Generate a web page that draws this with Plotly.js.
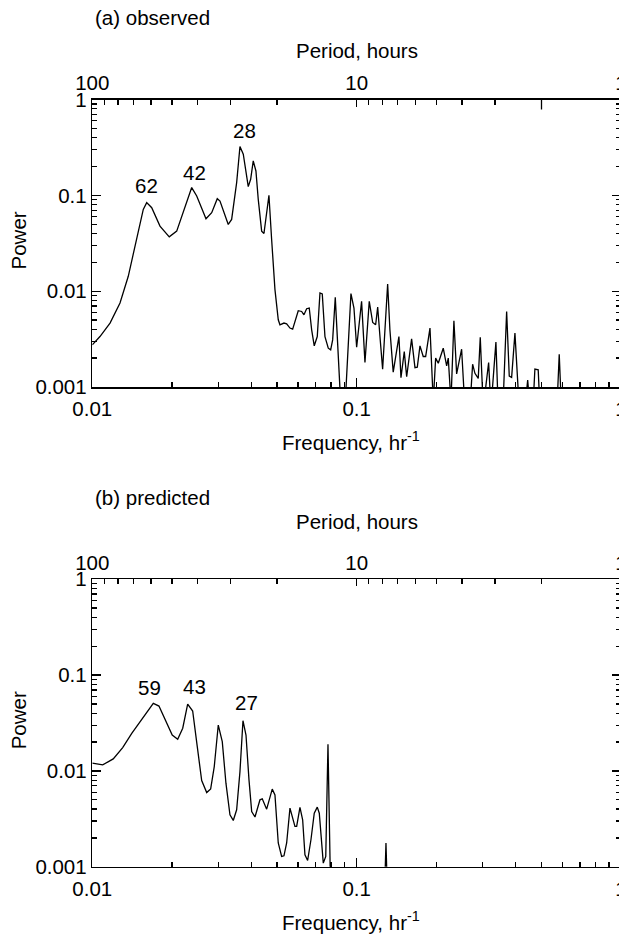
<!DOCTYPE html>
<html>
<head>
<meta charset="utf-8">
<script src="https://cdn.plot.ly/plotly-3.0.1.min.js"></script>
<style>
html,body{margin:0;padding:0;overflow:hidden;background:#fff;width:619px;height:936px}
#chart{width:640px;height:936px}
</style>
</head>
<body>
<div id="chart"></div>
<script>
// ---------- data ----------
var obsFreq = [0.0100,0.01069,0.01167,0.01273,0.01368,0.01429,0.01493,0.01559,0.01606,0.01678,
  0.01803,0.01955,0.02086,0.02242,0.02377,0.02483,0.02692,0.02829,0.02970,0.03041,
  0.03268,0.03366,0.03516,0.03619,0.03725,0.0389,0.03972,0.04063,0.04159,0.04244,
  0.04372,0.04460,0.04566,0.04658,0.04769,0.04909,0.05052,0.05127,0.05309,0.05435,
  0.05594,0.05727,0.06013,0.06194,0.06319,0.06469,0.06617,0.06758,0.06912,0.07096,
  0.07265,0.07412,0.07588,0.07810,0.07975,0.08114,0.08301,0.08446,0.08723,0.09031,
  0.09515,0.09768,0.1000,0.1044,0.1075,0.1116,0.1150,0.1180,0.1201,0.1225,
  0.1254,0.1310,0.1336,0.1375,0.1445,0.1471,0.1514,0.1546,0.1614,0.1662,
  0.1696,0.1736,0.1786,0.1824,0.1894,0.1949,0.1990,0.2036,0.2126,0.2190,
  0.2221,0.2274,0.2333,0.2389,0.2495,0.2568,0.2682,0.2746,0.2802,0.2884,
  0.2935,0.3012,0.3157,0.3221,0.3364,0.3432,0.3575,0.3693,0.3778,0.3857,
  0.3970,0.4121,0.4331,0.4436,0.4526,0.4643,0.4724,0.4862,0.4935,0.5723,
  0.5839,0.5952];
var obsPower = [0.00275,0.00336,0.00465,0.00752,0.0143,0.0251,0.0441,0.0713,0.0839,0.0743,
  0.0477,0.0369,0.0423,0.0773,0.1205,0.0984,0.057,0.0659,0.0923,0.0871,
  0.0497,0.0561,0.1358,0.3236,0.2687,0.1233,0.147,0.2286,0.1796,0.0908,
  0.0423,0.040,0.0659,0.100,0.0346,0.01037,0.00503,0.00446,0.00465,0.00457,
  0.00412,0.00402,0.00625,0.00614,0.00567,0.00656,0.00667,0.00395,0.00269,0.00336,
  0.00957,0.00935,0.00336,0.00254,0.00244,0.0031,0.00861,0.0031,0.0006,0.0006,
  0.00942,0.00667,0.0026,0.00782,0.0018,0.00782,0.00471,0.00446,0.00683,0.00336,
  0.00153,0.0119,0.00395,0.00143,0.00336,0.00125,0.00234,0.00128,0.00318,0.00159,
  0.00161,0.00269,0.00208,0.00208,0.00412,0.0007,0.0020,0.00177,0.00254,0.00166,
  0.0020,0.0007,0.00491,0.00137,0.00248,0.0006,0.0006,0.00173,0.00139,0.00123,
  0.00331,0.0006,0.0018,0.0006,0.00294,0.0006,0.0006,0.00614,0.0013,0.00126,
  0.00365,0.0006,0.0006,0.00118,0.0006,0.0006,0.00154,0.00151,0.0006,0.0006,
  0.0022,0.0006];

var predFreq = [0.0100,0.01095,0.0120,0.01303,0.0141,0.01515,0.01606,0.01701,0.01787,0.01884,
  0.02006,0.02104,0.02198,0.02295,0.02397,0.02495,0.02593,0.02709,0.02804,0.02893,
  0.02996,0.03102,0.03203,0.03317,0.03414,0.03516,0.03619,0.03715,0.03814,0.03915,
  0.04008,0.04125,0.04308,0.04395,0.04566,0.04794,0.04909,0.05052,0.05203,0.05309,
  0.05435,0.05594,0.05842,0.0593,0.06103,0.06248,0.06374,0.06525,0.06716,0.06912,
  0.07096,0.07222,0.07374,0.07478,0.07641,0.07790,0.07975,0.1274,0.1291,0.1308];
var predPower = [0.01203,0.01155,0.01334,0.0175,0.0247,0.0326,0.0415,0.0507,0.0475,0.034,
  0.0237,0.0214,0.0279,0.0499,0.0422,0.0179,0.00792,0.00594,0.00649,0.01109,
  0.0301,0.0202,0.00744,0.00348,0.00304,0.00393,0.00983,0.0334,0.0237,0.00806,
  0.00377,0.0033,0.00499,0.00511,0.00399,0.00645,0.00562,0.00177,0.00128,0.0013,
  0.00177,0.00409,0.00263,0.00263,0.00417,0.00309,0.00133,0.00116,0.00191,0.00362,
  0.00419,0.00362,0.0015,0.00109,0.00128,0.019,0.0005,0.0005,0.00177,0.0005];

var obsPeakLabels = ['62','42','28'];
var predPeakLabels = ['59','43','27'];

var freqTickVals = [0.01, 0.1, 1];
var freqTickText = ['0.01', '0.1', '1'];
var periodTickVals = [100, 10, 1];
var periodTickText = ['100', '10', '1'];
var powerTickVals = [0.001, 0.01, 0.1, 1];
var powerTickText = ['0.001', '0.01', '0.1', '1'];

var panelTitles = ['(a) observed', '(b) predicted'];
var topTitle = 'Period, hours';
var bottomTitle = 'Frequency, hr<sup>-1</sup>';
var leftTitle = 'Power';

// ---------- minor tick positions (2..9 within each decade) ----------
function minorVals(decades) {
  var out = [];
  decades.forEach(function (d) { for (var k = 2; k <= 9; k++) out.push(+(k * d).toPrecision(3)); });
  return out;
}
var freqMinor = minorVals([0.01, 0.1]);
var periodMinor = minorVals([1, 10]);
var powerMinor = minorVals([0.001, 0.01, 0.1]);

// ---------- layout geometry ----------
var W = 640, H = 936;
var FONT = 'Liberation Sans, Arial, Helvetica, sans-serif';
var xDom = [92.3 / W, 621 / W];
var yDomA = [(H - 387) / H, (H - 99.5) / H];
var yDomB = [(H - 866.7) / H, (H - 579.3) / H];

function baseAxis() {
  return {
    showline: true, linecolor: 'black', linewidth: 1.5,
    showgrid: false, zeroline: false, fixedrange: true,
    ticks: 'inside', tickwidth: 1.3, tickcolor: 'black',
    tickfont: { family: FONT, size: 20.5, color: 'black' },
    tickmode: 'array'
  };
}
function freqAxis(anchor) {
  var a = baseAxis();
  Object.assign(a, {
    type: 'log', range: [-2, 0], domain: xDom, anchor: anchor, side: 'bottom', mirror: false,
    ticklen: 9, tickvals: freqTickVals, ticktext: freqTickText, ticklabelstandoff: 3,
    minor: { tickmode: 'array', tickvals: freqMinor, ticks: 'inside', ticklen: 5, tickwidth: 1.3, tickcolor: 'black', showgrid: false }
  });
  return a;
}
function periodAxis(over, anchor) {
  var a = baseAxis();
  Object.assign(a, {
    type: 'log', range: [2, 0], overlaying: over, anchor: anchor, side: 'top', mirror: false,
    ticklen: 7, tickvals: periodTickVals, ticktext: periodTickText,
    minor: { tickmode: 'array', tickvals: periodMinor, ticks: 'inside', ticklen: 5, tickwidth: 1.3, tickcolor: 'black', showgrid: false }
  });
  return a;
}
function powerAxis(dom, anchor) {
  var a = baseAxis();
  Object.assign(a, {
    type: 'log', range: [-3, 0], domain: dom, anchor: anchor, side: 'left', mirror: 'ticks',
    ticklen: 9, tickvals: powerTickVals, ticktext: powerTickText,
    minor: { tickmode: 'array', tickvals: powerMinor, ticks: 'inside', ticklen: 5, tickwidth: 1.3, tickcolor: 'black', showgrid: false }
  });
  return a;
}

var lineStyle = { color: 'black', width: 1.3 };
var traces = [
  { x: obsFreq, y: obsPower, xaxis: 'x', yaxis: 'y', mode: 'lines', line: lineStyle, hoverinfo: 'skip', showlegend: false },
  { x: [], y: [], xaxis: 'x2', yaxis: 'y', mode: 'lines', hoverinfo: 'skip', showlegend: false },
  { x: predFreq, y: predPower, xaxis: 'x3', yaxis: 'y2', mode: 'lines', line: lineStyle, hoverinfo: 'skip', showlegend: false },
  { x: [], y: [], xaxis: 'x4', yaxis: 'y2', mode: 'lines', hoverinfo: 'skip', showlegend: false }
];

function ann(text, px, py, extra) {
  var a = {
    text: text, xref: 'paper', yref: 'paper', x: px / W, y: 1 - py / H,
    xanchor: 'center', yanchor: 'middle', showarrow: false,
    font: { family: FONT, size: 20.5, color: 'black' }
  };
  return Object.assign(a, extra || {});
}

var annotations = [
  ann(panelTitles[0], 93, 17, { xanchor: 'left' }),
  ann(topTitle, 356.7, 50),
  ann(bottomTitle, 351, 441),
  ann(leftTitle, 18.5, 241, { textangle: -90 }),
  ann(obsPeakLabels[0], 146.5, 186),
  ann(obsPeakLabels[1], 194.7, 172.5),
  ann(obsPeakLabels[2], 244.5, 131),

  ann(panelTitles[1], 93, 497, { xanchor: 'left' }),
  ann(topTitle, 356.7, 521.5),
  ann(bottomTitle, 351, 920.5),
  ann(leftTitle, 18.5, 720.8, { textangle: -90 }),
  ann(predPeakLabels[0], 149.7, 687.5),
  ann(predPeakLabels[1], 194.3, 686.5),
  ann(predPeakLabels[2], 246.3, 702.5)
];

var layout = {
  width: W, height: H,
  margin: { l: 0, r: 0, t: 0, b: 0, pad: 0 },
  paper_bgcolor: 'white', plot_bgcolor: 'white',
  showlegend: false,
  font: { family: FONT, size: 20.5, color: 'black' },
  xaxis: freqAxis('y'),
  xaxis2: periodAxis('x', 'y'),
  yaxis: powerAxis(yDomA, 'x'),
  xaxis3: freqAxis('y2'),
  xaxis4: periodAxis('x3', 'y2'),
  yaxis2: powerAxis(yDomB, 'x3'),
  annotations: annotations,
  shapes: [
    { type: 'line', xref: 'paper', yref: 'paper', x0: 541.5 / W, x1: 541.5 / W,
      y0: yDomA[1], y1: yDomA[1] - 10 / H, line: { color: 'black', width: 1.3 } }
  ]
};

Plotly.newPlot('chart', traces, layout, { staticPlot: true, displayModeBar: false });
</script>
</body>
</html>
